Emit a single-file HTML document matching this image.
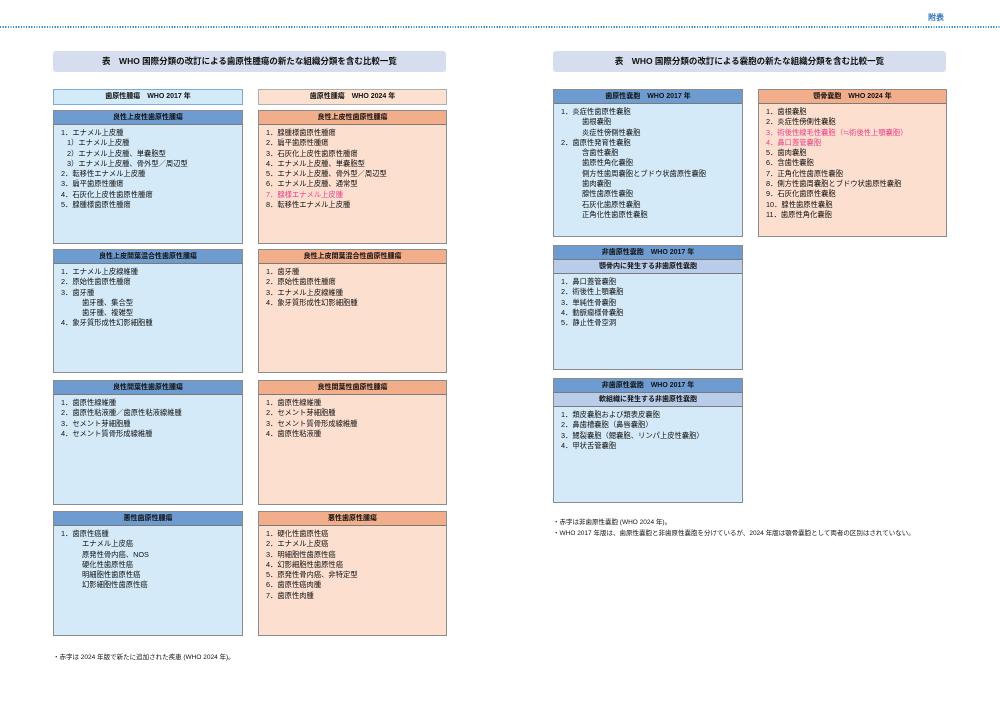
<!DOCTYPE html>
<html><head><meta charset="utf-8"><style>
*{margin:0;padding:0;box-sizing:border-box}
body{width:1000px;height:706px;background:#fff;position:relative;overflow:hidden;font-family:"Liberation Sans","Noto Sans CJK JP",sans-serif;color:#111}
.a{position:absolute}
.dot{left:0;top:26px;width:1000px;height:1.5px;background:repeating-linear-gradient(90deg,#3a94d4 0 1.2px,transparent 1.2px 2.6px)}
.title{height:21px;background:#d5ddef;border-radius:3px;font-size:8.5px;font-weight:bold;text-align:center;line-height:21px}
.sh{height:16px;font-size:7px;font-weight:bold;text-align:center;line-height:14px}
.shb{background:#d3eaf8;border:1px solid #7ea9da}
.sho{background:#fce0d0;border:1px solid #b0b0b0}
.box{border:1.5px solid #8c8c8c}
.bb{background:#d4eaf8}
.bo{background:#fcdfcf}
.hd{height:14px;font-size:7px;font-weight:bold;text-align:center;line-height:13px;border-bottom:1px solid #7a7a7a}
.hb{background:#6e9cd1}
.ho{background:#f2ad8a}
.sub{background:#b9cce9;height:14px;font-size:7px;font-weight:bold;text-align:center;line-height:13px;border-bottom:1px solid #7a7a7a}
ul{list-style:none;padding:3px 0 0 7px;font-size:7.3px;line-height:10.3px}
li{white-space:nowrap}
.i1{padding-left:6px}
.i2{padding-left:21px}
.r{color:#e8418b}
.note{font-size:6.5px;line-height:11px;white-space:nowrap}
</style></head><body>
<div class="a dot"></div>
<div class="a" style="left:928px;top:12px;font-size:8px;font-weight:bold;color:#2a6fb8">附表</div>

<div class="a title" style="left:53px;top:51px;width:393px">表　WHO 国際分類の改訂による歯原性腫瘍の新たな組織分類を含む比較一覧</div>
<div class="a title" style="left:553px;top:51px;width:393px">表　WHO 国際分類の改訂による嚢胞の新たな組織分類を含む比較一覧</div>

<div class="a sh shb" style="left:53px;top:89px;width:190px">歯原性腫瘍　WHO 2017 年</div>
<div class="a sh sho" style="left:258px;top:89px;width:189px">歯原性腫瘍　WHO 2024 年</div>

<div class="a box bb" style="left:53px;top:110px;width:190px;height:134px"><div class="hd hb">良性上皮性歯原性腫瘍</div><ul>
<li>1．エナメル上皮腫</li><li class="i1">1）エナメル上皮腫</li><li class="i1">2）エナメル上皮腫、単嚢胞型</li><li class="i1">3）エナメル上皮腫、骨外型／周辺型</li><li>2．転移性エナメル上皮腫</li><li>3．扁平歯原性腫瘍</li><li>4．石灰化上皮性歯原性腫瘍</li><li>5．腺腫様歯原性腫瘍</li></ul></div>
<div class="a box bo" style="left:258px;top:110px;width:189px;height:134px"><div class="hd ho">良性上皮性歯原性腫瘍</div><ul>
<li>1．腺腫様歯原性腫瘍</li><li>2．扁平歯原性腫瘍</li><li>3．石灰化上皮性歯原性腫瘍</li><li>4．エナメル上皮腫、単嚢胞型</li><li>5．エナメル上皮腫、骨外型／周辺型</li><li>6．エナメル上皮腫、通常型</li><li class="r">7．腺様エナメル上皮腫</li><li>8．転移性エナメル上皮腫</li></ul></div>

<div class="a box bb" style="left:53px;top:249px;width:190px;height:124px"><div class="hd hb">良性上皮間葉混合性歯原性腫瘍</div><ul>
<li>1．エナメル上皮線維腫</li><li>2．原始性歯原性腫瘍</li><li>3．歯牙腫</li><li class="i2">歯牙腫、集合型</li><li class="i2">歯牙腫、複雑型</li><li>4．象牙質形成性幻影細胞腫</li></ul></div>
<div class="a box bo" style="left:258px;top:249px;width:189px;height:124px"><div class="hd ho">良性上皮間葉混合性歯原性腫瘍</div><ul>
<li>1．歯牙腫</li><li>2．原始性歯原性腫瘍</li><li>3．エナメル上皮線維腫</li><li>4．象牙質形成性幻影細胞腫</li></ul></div>

<div class="a box bb" style="left:53px;top:380px;width:190px;height:125px"><div class="hd hb">良性間葉性歯原性腫瘍</div><ul>
<li>1．歯原性線維腫</li><li>2．歯原性粘液腫／歯原性粘液線維腫</li><li>3．セメント芽細胞腫</li><li>4．セメント質骨形成線維腫</li></ul></div>
<div class="a box bo" style="left:258px;top:380px;width:189px;height:125px"><div class="hd ho">良性間葉性歯原性腫瘍</div><ul>
<li>1．歯原性線維腫</li><li>2．セメント芽細胞腫</li><li>3．セメント質骨形成線維腫</li><li>4．歯原性粘液腫</li></ul></div>

<div class="a box bb" style="left:53px;top:511px;width:190px;height:125px"><div class="hd hb">悪性歯原性腫瘍</div><ul>
<li>1．歯原性癌腫</li><li class="i2">エナメル上皮癌</li><li class="i2">原発性骨内癌、NOS</li><li class="i2">硬化性歯原性癌</li><li class="i2">明細胞性歯原性癌</li><li class="i2">幻影細胞性歯原性癌</li></ul></div>
<div class="a box bo" style="left:258px;top:511px;width:189px;height:125px"><div class="hd ho">悪性歯原性腫瘍</div><ul>
<li>1．硬化性歯原性癌</li><li>2．エナメル上皮癌</li><li>3．明細胞性歯原性癌</li><li>4．幻影細胞性歯原性癌</li><li>5．原発性骨内癌、非特定型</li><li>6．歯原性癌肉腫</li><li>7．歯原性肉腫</li></ul></div>

<div class="a note" style="left:53px;top:652px">・赤字は 2024 年版で新たに追加された疾患 (WHO 2024 年)。</div>

<div class="a box bb" style="left:553px;top:89px;width:190px;height:148px"><div class="hd hb">歯原性嚢胞　WHO 2017 年</div><ul>
<li>1．炎症性歯原性嚢胞</li><li class="i2">歯根嚢胞</li><li class="i2">炎症性傍側性嚢胞</li><li>2．歯原性発育性嚢胞</li><li class="i2">含歯性嚢胞</li><li class="i2">歯原性角化嚢胞</li><li class="i2">側方性歯周嚢胞とブドウ状歯原性嚢胞</li><li class="i2">歯肉嚢胞</li><li class="i2">腺性歯原性嚢胞</li><li class="i2">石灰化歯原性嚢胞</li><li class="i2">正角化性歯原性嚢胞</li></ul></div>
<div class="a box bo" style="left:758px;top:89px;width:189px;height:148px"><div class="hd ho">顎骨嚢胞　WHO 2024 年</div><ul>
<li>1．歯根嚢胞</li><li>2．炎症性傍側性嚢胞</li><li class="r">3．術後性線毛性嚢胞（≒術後性上顎嚢胞）</li><li class="r">4．鼻口蓋管嚢胞</li><li>5．歯肉嚢胞</li><li>6．含歯性嚢胞</li><li>7．正角化性歯原性嚢胞</li><li>8．側方性歯周嚢胞とブドウ状歯原性嚢胞</li><li>9．石灰化歯原性嚢胞</li><li>10．腺性歯原性嚢胞</li><li>11．歯原性角化嚢胞</li></ul></div>

<div class="a box bb" style="left:553px;top:245px;width:190px;height:125px"><div class="hd hb">非歯原性嚢胞　WHO 2017 年</div><div class="sub">顎骨内に発生する非歯原性嚢胞</div><ul>
<li>1．鼻口蓋管嚢胞</li><li>2．術後性上顎嚢胞</li><li>3．単純性骨嚢胞</li><li>4．動脈瘤様骨嚢胞</li><li>5．静止性骨空洞</li></ul></div>

<div class="a box bb" style="left:553px;top:378px;width:190px;height:125px"><div class="hd hb">非歯原性嚢胞　WHO 2017 年</div><div class="sub">軟組織に発生する非歯原性嚢胞</div><ul>
<li>1．類皮嚢胞および類表皮嚢胞</li><li>2．鼻歯槽嚢胞（鼻唇嚢胞）</li><li>3．鰓裂嚢胞（鰓嚢胞、リンパ上皮性嚢胞）</li><li>4．甲状舌管嚢胞</li></ul></div>

<div class="a note" style="left:553px;top:517px">・赤字は非歯原性嚢胞 (WHO 2024 年)。<br>・WHO 2017 年版は、歯原性嚢胞と非歯原性嚢胞を分けているが、2024 年版は顎骨嚢胞として両者の区別はされていない。</div>
</body></html>
